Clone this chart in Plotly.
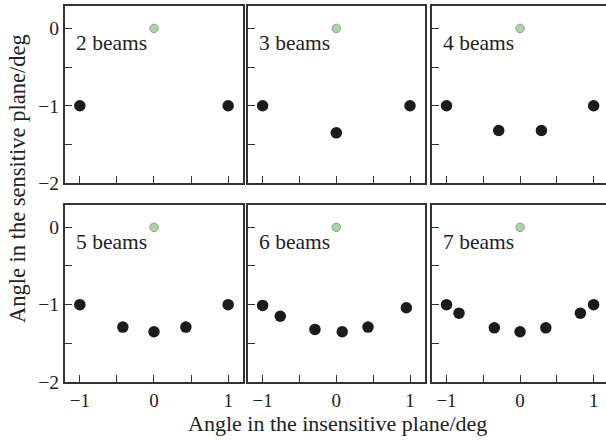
import plotly.graph_objects as go

# ---- data ----
beam_labels = ["2 beams", "3 beams", "4 beams", "5 beams", "6 beams", "7 beams"]
x2 = [-1.0, 1.0]
y2 = [-1.0, -1.0]
x3 = [-1.0, 0.0, 1.0]
y3 = [-1.0, -1.35, -1.0]
x4 = [-1.0, -0.29, 0.29, 1.0]
y4 = [-1.0, -1.32, -1.32, -1.0]
x5 = [-1.0, -0.42, 0.0, 0.43, 1.0]
y5 = [-1.0, -1.29, -1.35, -1.29, -1.0]
x6 = [-1.0, -0.76, -0.29, 0.08, 0.43, 0.95]
y6 = [-1.01, -1.15, -1.32, -1.35, -1.29, -1.04]
x7 = [-1.0, -0.83, -0.35, 0.0, 0.35, 0.82, 1.0]
y7 = [-1.0, -1.11, -1.30, -1.35, -1.30, -1.11, -1.0]
target_x = [0.0]
target_y = [0.0]

xs = [x2, x3, x4, x5, x6, x7]
ys = [y2, y3, y4, y5, y6, y7]

x_tickvals = [-1, -0.5, 0, 0.5, 1]
x_ticktext = ["−1", "", "0", "", "1"]
y_tickvals = [-2, -1.5, -1, -0.5, 0]
y_ticktext = ["−2", "", "−1", "", "0"]

x_title = "Angle in the insensitive plane/deg"
y_title = "Angle in the sensitive plane/deg"

# ---- layout ----
FONT = "Liberation Serif"
TXT = "#222222"
LINE = "#333333"
W, H = 606, 441
ML, MR, MT, MB = 65, 0, 6, 59

col_dom = [[0.0, 0.329], [0.338, 0.665], [0.678, 1.0]]
row_dom = [[0.529, 1.0], [0.0, 0.471]]
x_ranges = [[-1.2, 1.2], [-1.2, 1.2], [-1.2, 1.168]]

fig = go.Figure()
layout = dict(
    width=W, height=H,
    margin=dict(l=ML, r=MR, t=MT, b=MB),
    plot_bgcolor="white", paper_bgcolor="white",
    showlegend=False,
    font=dict(family=FONT, color=TXT, size=19),
)
annotations = []
for i in range(6):
    r, c = divmod(i, 3)
    n = i + 1
    xa = "x" if n == 1 else f"x{n}"
    ya = "y" if n == 1 else f"y{n}"
    fig.add_trace(go.Scatter(
        x=xs[i], y=ys[i], mode="markers", xaxis=xa, yaxis=ya,
        marker=dict(color="#1b1b1b", size=11.5, line=dict(width=0)),
    ))
    fig.add_trace(go.Scatter(
        x=target_x, y=target_y, mode="markers", xaxis=xa, yaxis=ya,
        marker=dict(color="#a9d6a3", size=8.5, line=dict(color="#9a9a9a", width=1)),
    ))
    last_col = (c == 2)
    layout["xaxis" if n == 1 else f"xaxis{n}"] = dict(
        domain=col_dom[c], anchor=ya, range=x_ranges[c],
        showgrid=False, zeroline=False,
        showline=True, linecolor=LINE, linewidth=2, mirror=True,
        ticks="inside", ticklen=7, tickwidth=1.2, tickcolor=LINE,
        tickvals=x_tickvals, ticktext=x_ticktext,
        showticklabels=(r == 1),
        tickfont=dict(family=FONT, size=19, color=TXT),
    )
    layout["yaxis" if n == 1 else f"yaxis{n}"] = dict(
        domain=row_dom[r], anchor=xa, range=[-2.0, 0.29],
        showgrid=False, zeroline=False,
        showline=True, linecolor=LINE, linewidth=2, mirror=(not last_col),
        ticks="inside", ticklen=7, tickwidth=1.2, tickcolor=LINE,
        tickvals=y_tickvals, ticktext=y_ticktext,
        showticklabels=(c == 0),
        tickfont=dict(family=FONT, size=19.5, color=TXT),
    )
    annotations.append(dict(
        text=beam_labels[i], xref=f"{xa} domain", yref=f"{ya} domain",
        x=0.05, y=0.79, xanchor="left", yanchor="middle", showarrow=False,
        font=dict(family=FONT, size=21.5, color=TXT),
    ))

annotations.append(dict(
    text=x_title, xref="paper", yref="paper", x=(337 - 65) / 541, y=-(423 - 382) / 376,
    xanchor="center", yanchor="middle", showarrow=False,
    font=dict(family=FONT, size=22, color=TXT),
))
annotations.append(dict(
    text=y_title, xref="paper", yref="paper", x=(17 - 65) / 541, y=(382 - 179) / 376,
    xanchor="center", yanchor="middle", showarrow=False, textangle=-90,
    font=dict(family=FONT, size=22.5, color=TXT),
))
layout["annotations"] = annotations
fig.update_layout(**layout)
fig.write_html("out.html")
